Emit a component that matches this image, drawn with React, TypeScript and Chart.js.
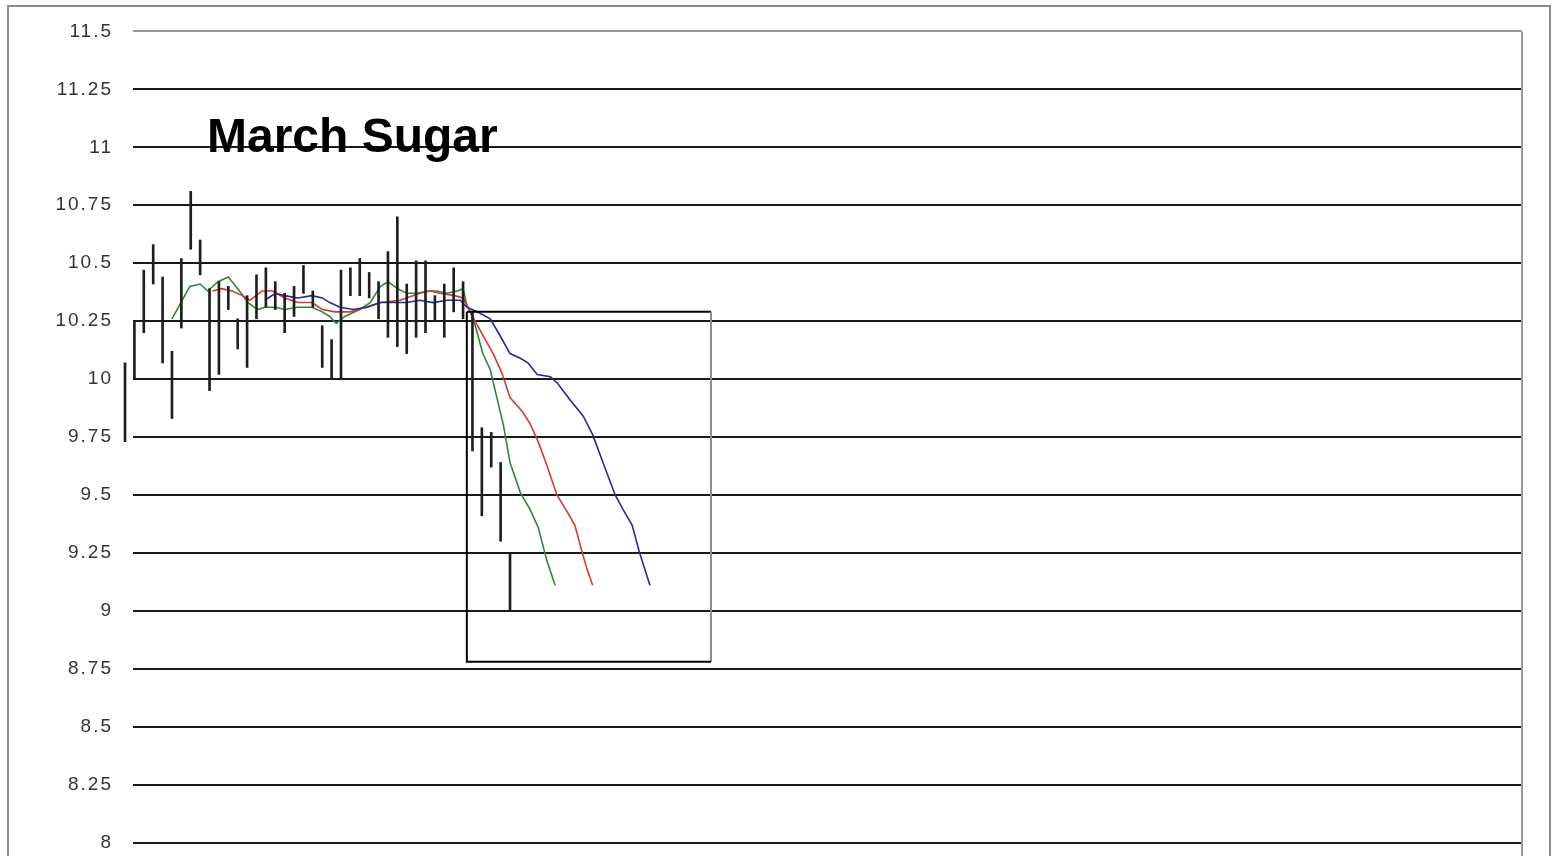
import React, { useEffect, useRef } from "react";
import { Chart, registerables } from "chart.js";

Chart.register(...registerables);

// ---- data ----
const yTicks = [8, 8.25, 8.5, 8.75, 9, 9.25, 9.5, 9.75, 10, 10.25, 10.5, 10.75, 11, 11.25, 11.5];

// daily high / low bars (x = trading day index)
const barDays = [
  0, 1, 2, 3, 4, 5, 6, 7, 8, 9, 10, 11, 12, 13, 14, 15, 16, 17, 18, 19, 20,
  21, 22, 23, 24, 25, 26, 27, 28, 29, 30, 31, 32, 33, 34, 35, 36, 37, 38, 39, 40, 41,
];
const barHigh = [
  10.07, 10.25, 10.47, 10.58, 10.44, 10.12, 10.52, 10.81, 10.6, 10.39, 10.42, 10.4,
  10.26, 10.36, 10.45, 10.48, 10.42, 10.37, 10.4, 10.49, 10.38, 10.23, 10.17, 10.47,
  10.48, 10.52, 10.46, 10.42, 10.55, 10.7, 10.41, 10.51, 10.51, 10.36, 10.41, 10.48,
  10.42, 10.29, 9.79, 9.77, 9.64, 9.25,
];
const barLow = [
  9.73, 10.0, 10.2, 10.41, 10.07, 9.83, 10.22, 10.56, 10.45, 9.95, 10.02, 10.3,
  10.13, 10.05, 10.26, 10.31, 10.3, 10.2, 10.27, 10.37, 10.31, 10.05, 10.0, 10.0,
  10.36, 10.36, 10.35, 10.26, 10.18, 10.14, 10.11, 10.18, 10.2, 10.25, 10.18, 10.29,
  10.26, 9.69, 9.41, 9.62, 9.3, 9.0,
];

// green (fast) average
const greenX = [
  5.0, 6.9, 8.0, 8.8, 9.9, 11.0, 12.0, 13.1, 14.1, 14.9, 16.0, 17.0, 18.4, 19.9, 21.0,
  21.8, 22.5, 23.4, 25.0, 26.1, 27.2, 28.0, 29.0, 30.0, 31.1, 32.2, 33.2, 34.3, 35.4,
  36.0, 36.4, 37.1, 37.5, 38.1, 38.9, 39.6, 40.3, 41.0, 42.1, 43.1, 44.0, 44.9, 45.8,
];
const greenY = [
  10.26, 10.4, 10.41, 10.38, 10.42, 10.44, 10.39, 10.33, 10.3, 10.31, 10.31, 10.3, 10.31,
  10.31, 10.29, 10.27, 10.24, 10.27, 10.3, 10.33, 10.4, 10.42, 10.39, 10.37, 10.37, 10.38,
  10.38, 10.37, 10.38, 10.39, 10.32, 10.26, 10.2, 10.11, 10.04, 9.92, 9.8, 9.64, 9.51,
  9.44, 9.36, 9.22, 9.11,
];

// red (medium) average
const redX = [
  9.3, 10.3, 11.4, 12.5, 13.3, 14.6, 15.7, 17.0, 18.4, 19.9, 21.0, 22.4, 24.0, 25.6, 27.2,
  29.3, 31.4, 32.5, 33.5, 35.1, 36.0, 37.0, 38.1, 39.2, 40.1, 41.0, 42.3, 43.1, 44.0,
  44.9, 46.0, 46.9, 47.9, 48.7, 49.2, 49.8,
];
const redY = [
  10.38, 10.39, 10.38, 10.36, 10.34, 10.38, 10.38, 10.35, 10.33, 10.33, 10.3, 10.29, 10.29,
  10.31, 10.33, 10.34, 10.37, 10.38, 10.37, 10.36, 10.35, 10.27, 10.19, 10.11, 10.03, 9.92,
  9.86, 9.81, 9.73, 9.63, 9.5, 9.44, 9.37, 9.25, 9.18, 9.11,
];

// blue (slow) average
const blueX = [
  14.9, 16.0, 17.0, 18.4, 19.9, 21.0, 21.8, 22.9, 24.3, 25.8, 27.2, 28.5, 30.0, 31.4, 32.8,
  34.3, 35.7, 36.4, 37.5, 38.9, 39.9, 41.0, 42.1, 42.9, 43.9, 45.3, 46.1, 47.4, 48.8,
  49.8, 50.9, 52.2, 53.0, 54.0, 54.8, 55.9,
];
const blueY = [
  10.34, 10.37, 10.36, 10.35, 10.36, 10.35, 10.33, 10.31, 10.3, 10.31, 10.33, 10.33, 10.33,
  10.34, 10.33, 10.34, 10.34, 10.31, 10.29, 10.26, 10.19, 10.11, 10.09, 10.07, 10.02, 10.01,
  9.98, 9.91, 9.84, 9.76, 9.64, 9.5, 9.44, 9.37, 9.25, 9.11,
];

// target box corners
const boxX = [36.4, 62.4, 62.4, 36.4, 36.4];
const boxY = [10.29, 10.29, 8.78, 8.78, 10.29];

const titleText = "March Sugar";

const toPts = (xs: number[], ys: number[]) => xs.map((x, i) => ({ x, y: ys[i] }));

export default function App() {
  const ref = useRef<HTMLCanvasElement | null>(null);

  useEffect(() => {
    if (!ref.current) return;
    const framePlugin = {
      id: "frame",
      beforeDraw(chart: any) {
        const ctx = chart.ctx;
        ctx.save();
        ctx.fillStyle = "#ffffff";
        ctx.fillRect(0, 0, chart.width, chart.height);
        ctx.strokeStyle = "#8c8c8c";
        ctx.lineWidth = 2;
        ctx.beginPath();
        ctx.moveTo(8, chart.height + 10);
        ctx.lineTo(8, 6);
        ctx.lineTo(1550, 6);
        ctx.lineTo(1550, chart.height + 10);
        ctx.stroke();
        ctx.restore();
        (ctx as any).letterSpacing = "2px";
      },
      beforeDatasetsDraw(chart: any) {
        const ctx = chart.ctx;
        (ctx as any).letterSpacing = "0px";
        const a = chart.chartArea;
        ctx.save();
        ctx.strokeStyle = "#9a9a9a";
        ctx.lineWidth = 2;
        ctx.beginPath();
        ctx.moveTo(a.right, a.top);
        ctx.lineTo(a.right, chart.height);
        ctx.stroke();
        ctx.restore();
      },
      afterDraw(chart: any) {
        const ctx = chart.ctx;
        ctx.save();
        (ctx as any).letterSpacing = "0px";
        ctx.fillStyle = "#000000";
        ctx.font = "bold 48px 'Liberation Sans', Arial, sans-serif";
        ctx.textAlign = "left";
        ctx.textBaseline = "alphabetic";
        ctx.fillText(titleText, 207, 152);
        ctx.restore();
      },
    };

    const chart = new Chart(ref.current, {
      type: "bar",
      data: {
        datasets: [
          {
            type: "line",
            data: toPts(boxX, boxY),
            borderColor: "#000000",
            borderWidth: 2,
            pointRadius: 0,
            tension: 0,
            segment: {
              borderColor: (c: any) => (c.p0DataIndex === 1 ? "#8a8a8a" : "#000000"),
            },
          } as any,
          {
            type: "bar",
            data: barDays.map((d, i) => ({ x: d, y: [barLow[i], barHigh[i]] })),
            backgroundColor: "#1e1e1e",
            borderWidth: 0,
            barThickness: 2,
            grouped: false,
            clip: false,
          } as any,
          {
            type: "line",
            data: toPts(blueX, blueY),
            borderColor: "#2626a0",
            borderWidth: 1.6,
            pointRadius: 0,
            tension: 0,
          } as any,
          {
            type: "line",
            data: toPts(redX, redY),
            borderColor: "#d23a32",
            borderWidth: 1.6,
            pointRadius: 0,
            tension: 0,
          } as any,
          {
            type: "line",
            data: toPts(greenX, greenY),
            borderColor: "#2a8a34",
            borderWidth: 1.6,
            pointRadius: 0,
            tension: 0,
          } as any,
        ],
      },
      options: {
        responsive: false,
        animation: false,
        events: [],
        layout: { padding: { left: 0, top: 31, right: 34, bottom: 0 } },
        plugins: { legend: { display: false }, tooltip: { enabled: false }, title: { display: false } },
        scales: {
          x: {
            type: "linear",
            min: 0.85,
            max: 148.77,
            offset: false,
            bounds: "ticks",
            display: false,
          },
          y: {
            type: "linear",
            min: 8,
            max: 11.5,
            afterFit: (s: any) => {
              s.width = 133;
            },
            afterBuildTicks: (s: any) => {
              s.ticks = yTicks.map((v) => ({ value: v }));
            },
            border: { display: false },
            grid: {
              drawTicks: false,
              lineWidth: 2,
              color: (c: any) => (c.tick && c.tick.value === 11.5 ? "#9a9a9a" : "#1a1a1a"),
            },
            ticks: {
              padding: 20,
              color: "#333333",
              font: { family: "'Liberation Sans', Arial, sans-serif", size: 19 },
              callback: (v: any) => String(v),
            },
          },
        },
      } as any,
      plugins: [framePlugin],
    });
    return () => chart.destroy();
  }, []);

  return (
    <div
      style={{
        position: "absolute",
        left: 0,
        top: 0,
        width: 1556,
        height: 856,
        overflow: "hidden",
        background: "#fff",
      }}
    >
      <canvas ref={ref} width={1556} height={874} style={{ display: "block" }} />
    </div>
  );
}
